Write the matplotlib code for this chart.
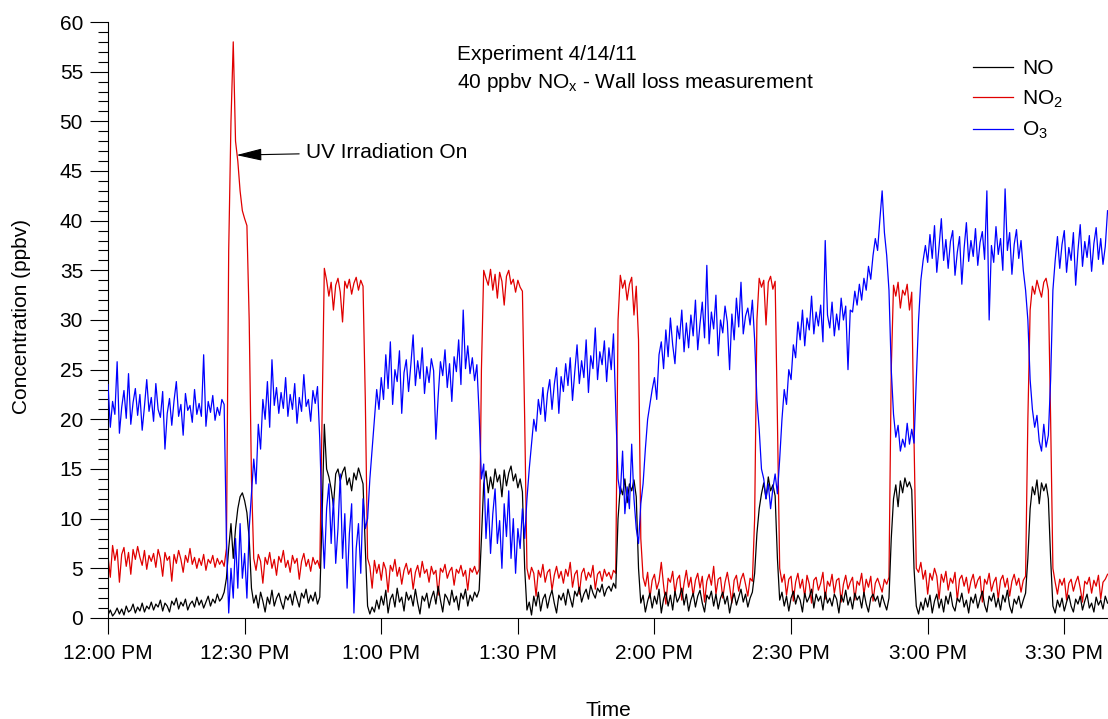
import numpy as np
import matplotlib
matplotlib.use("Agg")
import matplotlib.pyplot as plt
from matplotlib.ticker import MultipleLocator, FuncFormatter

plt.rcParams['font.family'] = ['Liberation Sans', 'DejaVu Sans']
plt.rcParams['mathtext.default'] = 'regular'
plt.rcParams['font.size'] = 15

# 30 s averages, starting 12:00 PM (ppbv)
no2 = [
    6.2, 4.1, 7.3, 5.8, 6.9, 3.6, 6.4, 7.1, 5.2, 6.6, 4.4, 6.9, 5.9, 7.2, 6.1, 5.3, 6.8, 4.9, 6.3, 5.7,
    6.5, 5.1, 6.9, 6.0, 4.2, 6.6, 5.8, 6.2, 3.7, 6.4, 5.5, 6.8, 5.9, 4.6, 6.3, 5.6, 7.0, 5.4, 6.1, 5.0,
    6.0, 5.3, 6.4, 4.8, 5.9, 5.5, 6.3, 5.1, 6.0, 5.4, 5.8, 5.2, 7.0, 37.0, 50.0, 58.0, 48.0, 46.0, 43.0, 41.0,
    40.2, 39.5, 30.0, 14.0, 6.0, 4.8, 6.4, 5.7, 3.5, 6.1, 5.4, 6.6, 5.0, 5.9, 4.3, 6.2, 5.6, 6.8, 5.1, 5.8,
    4.6, 6.3, 5.5, 6.0, 3.9, 5.7, 6.5, 5.2, 5.9, 4.7, 6.1, 5.4, 5.8, 5.0, 20.0, 35.2, 34.0, 32.4, 33.8, 31.0,
    33.5, 34.2, 32.8, 29.8, 33.9, 33.2, 34.1, 32.6, 33.7, 34.3, 33.0, 34.0, 33.4, 22.0, 6.0, 5.2, 3.0, 5.8, 4.5, 5.4,
    3.8, 5.6, 4.9, 2.6, 5.3, 4.7, 5.9, 4.2, 5.1, 3.4, 4.8, 5.5, 4.4, 5.0, 2.9, 4.6, 5.3, 4.1, 5.7, 4.5,
    4.9, 3.6, 5.2, 4.4, 4.8, 2.3, 5.0, 4.6, 5.4, 4.0, 4.7, 5.1, 3.3, 4.9, 4.5, 5.3, 4.2, 4.8, 2.8, 5.0,
    4.6, 5.2, 4.4, 4.9, 25.0, 35.0, 34.2, 33.5, 35.1, 33.0, 34.6, 32.2, 34.8, 33.9, 31.5, 34.4, 35.0, 33.6, 34.1, 32.8,
    34.0, 33.3, 32.9, 20.0, 5.0, 3.9, 5.1, 4.5, 2.2, 4.8, 4.1, 5.4, 3.6, 4.6, 4.9, 2.8, 4.3, 5.2, 4.0, 4.7,
    3.5, 4.9, 4.2, 5.6, 3.1, 4.4, 4.8, 2.4, 4.5, 5.0, 3.8, 4.6, 4.1, 5.3, 2.9, 4.4, 4.7, 3.7, 4.9, 4.2,
    4.6, 3.9, 4.8, 4.5, 30.0, 34.5, 33.2, 34.0, 32.0, 33.6, 34.3, 30.5, 33.4, 28.0, 8.0, 4.1, 3.2, 4.6, 2.0, 3.8,
    4.4, 2.9, 3.7, 5.6, 3.3, 1.4, 4.0, 3.6, 4.7, 2.5, 3.9, 4.3, 1.8, 3.5, 4.8, 3.1, 4.1, 2.2, 3.8, 4.5,
    3.0, 4.2, 1.6, 3.7, 4.4, 3.3, 5.2, 2.4, 3.9, 4.1, 2.0, 3.6, 4.6, 3.2, 1.5, 3.8, 4.3, 2.7, 3.9, 4.5,
    3.4, 2.2, 4.0, 3.7, 10.0, 30.0, 34.2, 33.3, 34.0, 29.5, 33.8, 34.4, 33.1, 33.9, 20.0, 5.0, 3.6, 4.4, 2.3, 3.9,
    4.2, 1.7, 3.6, 4.5, 3.0, 3.9, 2.1, 4.3, 3.4, 1.5, 3.8, 4.1, 2.8, 3.5, 4.6, 1.9, 3.7, 3.2, 4.4, 2.5,
    3.8, 4.0, 1.6, 3.4, 4.3, 2.9, 3.6, 4.1, 1.8, 3.7, 3.3, 4.5, 2.4, 3.9, 3.1, 4.2, 1.7, 3.5, 4.0, 3.3,
    2.6, 3.9, 3.4, 4.1, 25.0, 33.5, 32.4, 33.8, 31.2, 33.0, 32.5, 33.6, 31.0, 32.8, 18.0, 5.0, 4.6, 5.6, 3.9, 4.8,
    2.4, 4.5, 3.8, 5.0, 4.2, 1.9, 4.4, 3.6, 4.7, 2.8, 4.0, 3.5, 4.6, 1.8, 3.9, 4.3, 3.2, 4.1, 2.5, 3.7,
    4.4, 3.0, 3.8, 4.2, 1.6, 3.9, 3.4, 4.5, 2.7, 3.6, 4.1, 1.9, 3.8, 4.3, 3.1, 4.0, 2.2, 3.7, 4.4, 3.3,
    4.0, 2.6, 3.8, 4.2, 20.0, 31.0, 33.4, 32.6, 34.0, 33.1, 32.3, 33.8, 34.2, 33.0, 20.0, 5.0, 3.6, 2.4, 3.9, 3.3,
    4.0, 1.8, 3.5, 3.9, 2.7, 3.6, 4.2, 3.0, 1.6, 3.7, 3.4, 4.1, 2.5, 3.8, 3.2, 4.3, 1.9, 3.6, 3.9, 4.4,
]

no = [
    0.3, 0.8, 0.2, 0.5, 1.0, 0.4, 0.9, 0.3, 1.2, 0.6, 0.8, 1.4, 0.5, 1.1, 0.7, 1.5, 0.6, 1.2, 0.9, 1.6,
    0.8, 1.4, 1.1, 1.8, 0.7, 1.5, 1.2, 0.6, 1.7, 1.3, 2.0, 0.9, 1.6, 1.2, 1.9, 0.8, 1.4, 1.7, 1.1, 2.1,
    1.3, 1.8, 1.0, 1.6, 2.2, 1.2, 1.9, 1.5, 2.4, 1.7, 2.0, 2.6, 4.0, 7.0, 9.5, 6.0, 9.0, 11.0, 12.2, 12.6,
    11.8, 10.6, 8.0, 3.0, 1.5, 2.3, 1.0, 2.6, 1.7, 0.6, 2.1, 1.4, 2.8, 1.2, 2.0, 2.5, 1.6, 0.9, 2.2, 1.8,
    2.4, 1.3, 2.7, 1.9, 1.1, 2.5, 2.0, 2.9, 1.5, 2.3, 1.7, 2.6, 1.4, 2.1, 10.0, 19.5, 15.0, 14.2, 13.0, 11.3,
    14.5, 15.0, 13.8, 14.7, 15.2, 13.4, 14.1, 12.8, 14.6, 13.9, 15.1, 14.3, 13.5, 7.0, 1.2, 0.4, 1.1, 0.6, 1.8, 0.9,
    2.2, 1.3, 2.8, 0.5, 1.9, 2.4, 1.1, 3.0, 1.6, 2.1, 0.7, 2.6, 1.8, 2.3, 1.2, 2.9, 1.5, 0.4, 2.2, 1.7,
    2.5, 1.0, 2.0, 2.7, 1.4, 3.2, 1.8, 0.6, 2.4, 2.0, 1.3, 2.8, 1.6, 2.2, 0.8, 2.5, 1.9, 2.9, 1.2, 2.3,
    1.7, 2.6, 2.1, 2.8, 8.0, 13.5, 14.8, 12.6, 14.2, 13.0, 15.0, 13.7, 14.4, 12.2, 14.9, 13.3, 14.6, 15.3, 13.8, 14.5,
    13.1, 14.0, 12.7, 5.0, 0.8, 1.6, 0.3, 2.2, 1.2, 2.6, 0.7, 1.9, 2.4, 1.0, 2.1, 2.8, 1.5, 0.5, 2.3, 1.8,
    2.5, 1.3, 2.9, 2.0, 1.1, 2.7, 2.2, 3.1, 1.6, 2.4, 2.9, 1.9, 3.3, 2.5, 2.0, 3.0, 2.6, 3.4, 2.2, 2.9,
    3.2, 2.7, 3.5, 3.0, 10.0, 13.2, 12.4, 14.0, 11.6, 13.5, 12.8, 13.9, 12.2, 5.0, 1.5, 2.3, 0.6, 1.7, 2.5, 1.0,
    2.2, 1.4, 2.9, 0.5, 1.9, 2.6, 1.2, 2.3, 0.8, 2.7, 1.6, 2.1, 3.0, 1.3, 2.4, 0.7, 1.8, 2.5, 1.1, 2.2,
    2.8, 1.5, 0.6, 2.3, 1.9, 2.7, 1.2, 2.4, 0.9, 2.0, 2.6, 1.4, 2.2, 0.5, 1.7, 2.5, 1.3, 2.1, 2.9, 1.6,
    2.4, 1.1, 2.0, 2.6, 4.5, 8.5, 11.0, 12.5, 13.6, 12.0, 14.2, 12.8, 13.4, 12.3, 6.0, 1.8, 2.6, 1.2, 2.2, 0.7,
    2.0, 2.7, 1.4, 2.3, 1.8, 0.6, 2.5, 1.6, 2.1, 2.9, 1.0, 2.4, 1.7, 2.2, 0.8, 2.6, 1.5, 2.0, 1.2, 2.4,
    1.9, 0.5, 2.3, 1.6, 2.8, 1.3, 2.1, 0.9, 2.5, 1.8, 2.2, 1.0, 2.6, 1.4, 0.6, 2.0, 2.4, 1.7, 2.2, 1.1,
    2.3, 1.5, 0.8, 2.0, 8.0, 12.0, 13.4, 11.2, 13.8, 12.6, 14.1, 13.2, 13.7, 12.9, 5.0, 1.2, 0.4, 1.6, 0.8, 2.0,
    1.1, 2.3, 0.5, 1.7, 2.4, 1.0, 1.9, 0.6, 2.2, 1.4, 2.6, 1.2, 0.7, 2.0, 1.6, 2.5, 1.1, 1.8, 0.5, 2.1,
    1.5, 2.4, 1.0, 1.9, 2.7, 1.3, 0.6, 2.2, 1.7, 2.5, 1.1, 2.0, 0.8, 2.3, 1.6, 2.8, 1.2, 0.5, 1.9, 1.4,
    2.2, 1.0, 1.8, 2.5, 6.0, 11.0, 13.2, 12.4, 13.9, 11.5, 13.6, 12.8, 13.5, 12.0, 6.0, 1.2, 0.5, 1.8, 1.1, 2.0,
    0.7, 1.6, 2.3, 1.2, 0.6, 1.9, 1.4, 2.2, 0.8, 1.7, 2.4, 1.0, 1.5, 0.6, 2.1, 1.3, 1.8, 0.9, 2.2, 1.5,
]

o3 = [
    23.5, 19.2, 21.8, 20.5, 25.8, 18.6, 21.2, 22.9, 20.1, 24.6, 19.5, 21.7, 23.1, 20.4, 22.5, 18.9, 21.3, 24.0, 20.8, 22.2,
    19.8, 23.6, 21.0, 20.2, 22.8, 17.0, 20.6, 22.1, 19.4, 21.9, 23.8, 20.3, 21.5, 18.4, 22.6, 20.9, 21.4, 19.7, 23.0, 20.5,
    21.6, 20.3, 26.5, 19.3, 21.8, 20.7, 22.4, 19.9, 21.2, 20.4, 22.0, 21.5, 8.0, 0.5, 5.0, 2.0, 8.0, 3.0, 9.5, 4.0,
    6.5, 2.0, 9.0, 12.5, 16.0, 13.5, 19.5, 17.0, 22.0, 20.0, 23.8, 19.2, 26.0, 21.4, 23.2, 20.6, 22.7, 21.1, 24.2, 20.3,
    22.5, 21.0, 23.6, 19.6, 22.2, 20.8, 24.5, 21.3, 22.0, 19.8, 22.9, 21.6, 23.3, 18.0, 10.0, 5.0, 11.0, 13.5, 7.5, 12.0,
    5.5, 9.0, 14.5, 6.0, 10.5, 3.0, 8.5, 11.5, 0.5, 7.0, 9.5, 4.5, 12.0, 9.0, 10.0, 14.0, 17.0, 20.0, 23.0, 21.0,
    24.2, 22.0, 26.5, 23.1, 27.8, 21.5, 25.0, 23.8, 26.9, 20.6, 24.7, 26.0, 22.8, 25.5, 28.5, 23.4, 25.9, 24.1, 27.2, 22.6,
    25.3, 23.7, 26.1, 24.9, 18.0, 22.3, 25.8, 24.4, 27.0, 23.2, 25.6, 21.8, 26.3, 24.8, 28.0, 23.5, 31.0, 25.1, 27.4, 24.6,
    26.2, 23.9, 25.5, 20.5, 14.0, 15.5, 8.0, 12.0, 6.5, 10.5, 13.0, 7.5, 9.8, 5.0, 11.5, 8.2, 12.8, 6.0, 10.0, 4.5,
    9.0, 7.0, 11.0, 8.0, 12.0, 15.0, 17.5, 20.0, 18.8, 22.0, 20.5, 23.2, 19.8, 22.6, 24.0, 21.0, 23.5, 25.2, 20.6, 24.3,
    22.8, 25.6, 23.4, 26.2, 21.9, 24.8, 27.5, 23.6, 25.9, 24.2, 28.0, 22.7, 26.4, 25.1, 29.2, 24.0, 26.8, 25.5, 27.9, 23.8,
    27.2, 25.0, 28.6, 21.0, 14.0, 12.5, 16.8, 10.5, 13.2, 11.0, 17.5, 12.0, 9.0, 7.5, 11.5, 13.5, 17.0, 20.0, 21.5, 23.0,
    24.2, 22.0, 26.5, 27.8, 25.1, 29.0, 26.3, 30.2, 27.5, 25.6, 29.4, 28.1, 31.0, 26.8, 29.7, 27.2, 30.5, 28.4, 32.0, 27.0,
    29.6, 31.8, 28.2, 35.5, 27.6, 30.8, 29.1, 32.5, 26.4, 30.0, 28.7, 31.4, 29.8, 25.0, 30.6, 28.0, 32.2, 29.3, 33.8, 28.6,
    30.4, 31.2, 29.5, 32.0, 28.0, 22.0, 19.0, 15.0, 14.0, 12.0, 13.5, 11.0, 13.0, 14.5, 12.5, 16.0, 20.0, 23.0, 21.5, 25.0,
    24.0, 27.5, 26.2, 29.8, 28.0, 31.0, 27.4, 30.2, 29.0, 32.4, 28.6, 30.8, 29.4, 31.5, 27.8, 38.0, 30.5, 29.2, 31.8, 28.4,
    30.6, 29.0, 32.2, 30.0, 31.4, 25.0, 31.0, 30.8, 32.9, 31.5, 33.6, 32.0, 34.2, 33.0, 35.4, 34.1, 36.5, 38.2, 37.0, 40.1,
    43.0, 38.8, 36.5, 33.0, 25.0, 20.5, 18.2, 19.4, 16.8, 18.0, 17.2, 19.6, 17.5, 19.0, 17.6, 24.0, 30.0, 34.0, 36.0, 37.5,
    35.8, 38.6, 36.2, 39.5, 34.8, 37.4, 40.2, 36.0, 38.1, 35.2, 37.9, 39.0, 34.5, 36.8, 38.4, 33.6, 37.2, 39.8, 35.9, 38.0,
    36.4, 39.2, 35.5, 37.8, 38.9, 36.1, 43.0, 30.0, 37.5, 35.8, 39.4, 36.6, 38.2, 35.0, 43.2, 37.0, 38.8, 34.6, 37.6, 39.1,
    36.2, 38.0, 35.0, 33.0, 30.0, 24.0, 21.0, 19.2, 20.4, 17.8, 16.8, 19.5, 17.2, 18.4, 24.0, 33.0, 36.0, 38.4, 35.2, 37.6,
    39.0, 34.8, 37.3, 36.0, 38.8, 33.5, 37.0, 39.6, 35.4, 37.9, 36.3, 38.5, 34.9, 37.7, 39.3, 36.1, 38.2, 35.6, 37.4, 41.0,
]

minutes = np.arange(len(no2)) * 0.5   # minutes after 12:00 PM
time_ticks = [0, 30, 60, 90, 120, 150, 180, 210]


def clock_label(m, pos=None):
    h = 12 + int(m) // 60
    mm = int(m) % 60
    if h > 12:
        h -= 12
    return "%d:%02d PM" % (h, mm)


fig = plt.figure(figsize=(11.08, 7.19), dpi=100)
ax = fig.add_axes([0.0975, 0.1405, 0.9025, 0.8289])

ax.plot(minutes, no2, color='#e00000', lw=0.9, label='NO$_2$', zorder=2)
ax.plot(minutes, no, color='black', lw=0.9, label='NO', zorder=3)
ax.plot(minutes, o3, color='#0000ff', lw=0.9, label='O$_3$', zorder=4)

ax.set_xlim(0, 219.6)
ax.set_ylim(0, 60)
ax.set_xticks(time_ticks)
ax.xaxis.set_major_formatter(FuncFormatter(clock_label))
ax.yaxis.set_major_locator(MultipleLocator(5))
ax.yaxis.set_minor_locator(MultipleLocator(1))

for side in ['top', 'right']:
    ax.spines[side].set_visible(False)
for side in ['left', 'bottom']:
    ax.spines[side].set_linewidth(0.8)

ax.tick_params(axis='x', which='major', direction='out', length=11.5, width=0.8, pad=7)
ax.tick_params(axis='y', which='major', direction='out', length=13, width=0.8, pad=5)
ax.tick_params(axis='y', which='minor', direction='out', length=7, width=0.8)

fig.text(22 / 1108, 1 - 316 / 719, 'Concentration (ppbv)', rotation=90, ha='center', va='center')
fig.text(0.549, 1 - 710 / 719, 'Time', ha='center', va='center')

ax.text(0.349, 0.945, 'Experiment 4/14/11', transform=ax.transAxes, ha='left', va='center')
ax.text(0.349, 0.899, '40 ppbv NO$_x$ - Wall loss measurement', transform=ax.transAxes,
        ha='left', va='center')

ax.annotate('UV Irradiation On', xy=(28.2, 46.6), xytext=(43.5, 46.9),
            ha='left', va='center',
            arrowprops=dict(arrowstyle='-|>,head_length=1.05,head_width=0.25',
                            color='black', lw=0.8, shrinkA=3, shrinkB=0))

handles, labels = ax.get_legend_handles_labels()
order = [1, 0, 2]
ax.legend([handles[i] for i in order], [labels[i] for i in order],
          loc='upper left', bbox_to_anchor=(0.865, 0.938), frameon=False,
          borderpad=0, borderaxespad=0, handlelength=1.9, handletextpad=0.45,
          labelspacing=0.5)

fig.savefig('out.png', dpi=100)
